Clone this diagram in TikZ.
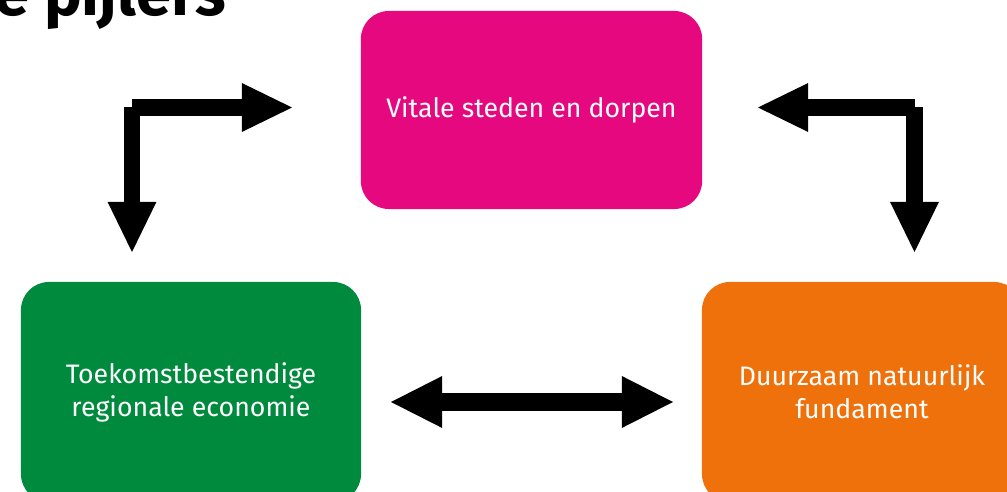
\documentclass[tikz,border=0pt]{standalone}
\usepackage{fontspec}
\setmainfont{Fira Sans}
\usetikzlibrary{arrows.meta}

\definecolor{pijlerroze}{HTML}{E6087F}
\definecolor{pijlergroen}{HTML}{008A3D}
\definecolor{pijleroranje}{HTML}{EE710C}

\tikzset{
    pijler/.style={rounded corners=0.7cm, minimum width=8.5cm, minimum height=5.5cm,
        text=white, align=center, inner sep=0pt, font=\fontsize{19}{23.5}\selectfont},
    blokpijl/.style={line width=0.42cm, -{Triangle[length=1.25cm, width=1.22cm, line width=0pt]}},
}

\begin{document}
\begin{tikzpicture}[x=0.025cm, y=-0.025cm]
    \useasboundingbox (0,0) rectangle (1007,492);
    \clip (0,0) rectangle (1007,492);

    % Title (cut off at the top)
    \node[anchor=base west, inner sep=0pt, font=\fontsize{45}{45}\bfseries\selectfont] (titel) at (-6,16) {e pijlers};

    % Pillars
    \node[pijler, fill=pijlerroze, minimum width=8.53cm, minimum height=4.95cm] (steden) at (531.5,110) {Vitale steden en dorpen};
    \node[pijler, fill=pijlergroen] (economie) at (191,392) {Toekomstbestendige\\regionale economie};
    \node[pijler, fill=pijleroranje, minimum width=8cm] (fundament) at (862,392) {Duurzaam natuurlijk\\fundament};

    % Arrow end points
    \coordinate (lhoek) at (132,107.5);
    \coordinate (lrechts) at (292,107.5);
    \coordinate (londer) at (132,252);
    \coordinate (rhoek) at (914.5,107.5);
    \coordinate (rlinks) at (758,107.5);
    \coordinate (ronder) at (914.5,252);
    \coordinate (olinks) at (391,402);
    \coordinate (orechts) at (673,402);

    % Arrows
    \draw[blokpijl] (lhoek) -- (lrechts);
    \draw[blokpijl] (lhoek) -- (londer);
    \draw[blokpijl] (rhoek) -- (rlinks);
    \draw[blokpijl] (rhoek) -- (ronder);
    \draw[blokpijl, line width=0.47cm, {Triangle[length=1.28cm, width=1.3cm, line width=0pt]}-{Triangle[length=1.28cm, width=1.3cm, line width=0pt]}] (olinks) -- (orechts);
\end{tikzpicture}
\end{document}
